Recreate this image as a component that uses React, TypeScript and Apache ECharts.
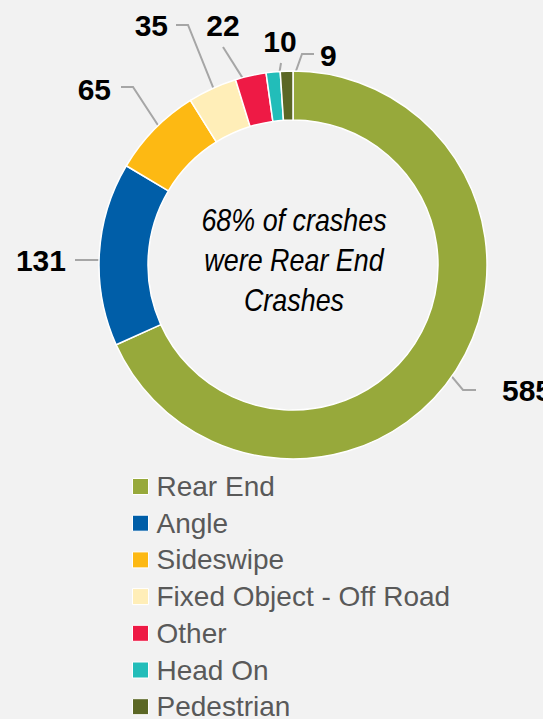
import React, { useEffect, useRef } from 'react';
import * as echarts from 'echarts';

// ---- data ----
const categories = ['Rear End', 'Angle', 'Sideswipe', 'Fixed Object - Off Road', 'Other', 'Head On', 'Pedestrian'];
const crashCounts = [585, 131, 65, 35, 22, 10, 9];
const sliceColors = ['#97A93B', '#005EA8', '#FDB913', '#FFEEB8', '#EE1A45', '#22BDB9', '#5B6725'];

// ---- layout ----
const FONT = '"Liberation Sans", Arial, sans-serif';
const CENTER = [293, 265];
const R_IN = 145;
const R_OUT = 194;
const R_LINE = 170;
type Spot = { elbow: number[] | null; end: number[]; x: number; y: number; align: string };
const LABEL_SPOTS: Spot[] = [
  { elbow: [463, 390], end: [476, 390], x: 502, y: 390.5, align: 'left' },
  { elbow: [99, 260], end: [75, 260], x: 66, y: 260.5, align: 'right' },
  { elbow: [133, 87], end: [121, 87], x: 111, y: 89.5, align: 'right' },
  { elbow: [188, 25], end: [176, 25], x: 168, y: 25.5, align: 'right' },
  { elbow: null, end: [223, 47], x: 223, y: 25.5, align: 'center' },
  { elbow: null, end: [281, 63], x: 280, y: 41, align: 'center' },
  { elbow: [302, 54], end: [314, 54], x: 320, y: 55, align: 'left' },
];

export default function App() {
  const ref = useRef<HTMLDivElement>(null);
  useEffect(() => {
    if (!ref.current) return;
    const chart = echarts.init(ref.current, null, { renderer: 'svg' });
    const total = crashCounts.reduce((a, b) => a + b, 0);
    const midAngles: number[] = [];
    let cum = 0;
    crashCounts.forEach((v) => {
      midAngles.push(((cum + v / 2) / total) * 360);
      cum += v;
    });
    const pct = Math.round((crashCounts[0] / total) * 100);

    chart.setOption({
      animation: false,
      backgroundColor: '#F2F2F2',
      color: sliceColors,
      legend: {
        orient: 'vertical',
        left: 132,
        top: 471,
        height: 260,
        padding: 0,
        itemWidth: 16,
        itemHeight: 16,
        itemGap: 5.7,
        icon: 'rect',
        data: categories,
        itemStyle: { borderColor: '#ffffff', borderWidth: 1 },
        textStyle: { fontSize: 28, lineHeight: 31, color: '#595959', fontFamily: FONT, padding: [0, 0, 0, 3] },
      },
      graphic: [
        {
          type: 'text',
          x: 294,
          y: 260,
          scaleX: 0.84,
          style: {
            text: `${pct}% of crashes\nwere ${categories[0]}\nCrashes`,
            fontSize: 32,
            lineHeight: 40,
            fontStyle: 'italic',
            fontFamily: FONT,
            fill: '#000',
            textAlign: 'center',
            textVerticalAlign: 'middle',
          },
        },
      ],
      series: [
        {
          type: 'pie',
          center: CENTER,
          radius: [R_IN, R_OUT],
          startAngle: 90,
          clockwise: true,
          avoidLabelOverlap: false,
          itemStyle: { borderColor: '#ffffff', borderWidth: 1.5 },
          label: {
            show: true,
            position: 'outside',
            formatter: '{c}',
            fontSize: 30,
            fontWeight: 'bold',
            fontFamily: FONT,
            color: '#000',
          },
          labelLine: { show: true, lineStyle: { color: '#A6A6A6', width: 2 } },
          labelLayout: (p: any) => {
            const i = p.dataIndex;
            const s = LABEL_SPOTS[i];
            const rad = (midAngles[i] * Math.PI) / 180;
            const start = [CENTER[0] + R_LINE * Math.sin(rad), CENTER[1] - R_LINE * Math.cos(rad)];
            const elbow = s.elbow ?? s.end;
            return {
              x: s.x,
              y: s.y,
              align: s.align,
              verticalAlign: 'middle',
              labelLinePoints: [start, elbow, s.end],
            };
          },
          emphasis: { disabled: true },
          data: categories.map((name, i) => ({ name, value: crashCounts[i] })),
        },
      ],
    });
    return () => chart.dispose();
  }, []);
  return <div ref={ref} style={{ position: 'fixed', left: 0, top: 0, width: 543, height: 719 }} />;
}
